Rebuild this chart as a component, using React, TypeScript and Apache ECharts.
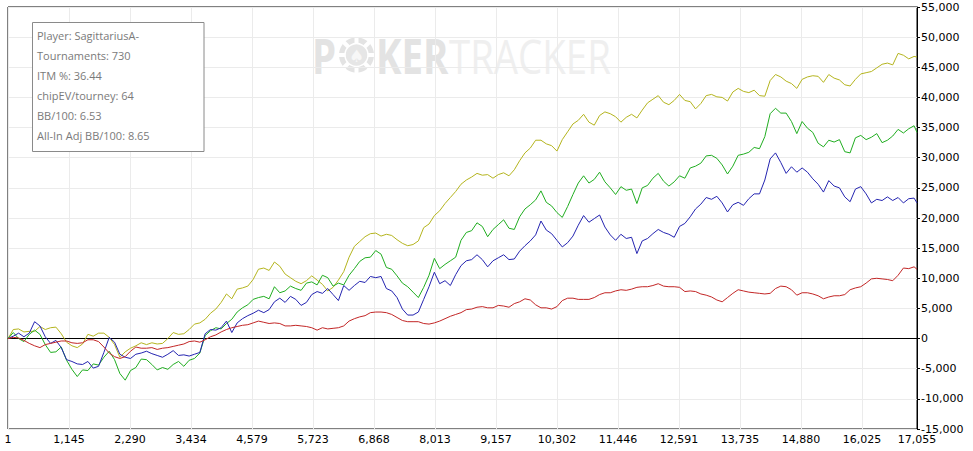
import React, { useEffect, useRef } from 'react';
import * as echarts from 'echarts';

// Hand numbers (x) at which the four cumulative lines are sampled
const hands = [
  1, 100, 200, 300, 400, 500, 600, 700, 800, 900,
  1000, 1100, 1200, 1300, 1400, 1500, 1600, 1700, 1800, 1900,
  2000, 2100, 2200, 2300, 2400, 2500, 2600, 2700, 2800, 2900,
  3000, 3100, 3200, 3300, 3400, 3500, 3600, 3700, 3800, 3900,
  4000, 4100, 4200, 4300, 4400, 4500, 4600, 4700, 4800, 4900,
  5000, 5100, 5200, 5300, 5400, 5500, 5600, 5700, 5800, 5900,
  6000, 6100, 6200, 6300, 6400, 6500, 6600, 6700, 6800, 6900,
  7000, 7100, 7200, 7300, 7400, 7500, 7600, 7700, 7800, 7900,
  8000, 8100, 8200, 8300, 8400, 8500, 8600, 8700, 8800, 8900,
  9000, 9100, 9200, 9300, 9400, 9500, 9600, 9700, 9800, 9900,
  10000, 10100, 10200, 10300, 10400, 10500, 10600, 10700, 10800, 10900,
  11000, 11100, 11200, 11300, 11400, 11500, 11600, 11700, 11800, 11900,
  12000, 12100, 12200, 12300, 12400, 12500, 12600, 12700, 12800, 12900,
  13000, 13100, 13200, 13300, 13400, 13500, 13600, 13700, 13800, 13900,
  14000, 14100, 14200, 14300, 14400, 14500, 14600, 14700, 14800, 14900,
  15000, 15100, 15200, 15300, 15400, 15500, 15600, 15700, 15800, 15900,
  16000, 16100, 16200, 16300, 16400, 16500, 16600, 16700, 16800, 16900,
  17000, 17055,
];

// Values in thousands
const oliveK = [
  0, 1.5, 1.6, 1.1, 1.2, 1.2, 2.0, 1.5, 1.8, 1.9,
  0.8, -0.6, -1.2, -1.5, -0.9, 0.7, 0.4, 0.9, 0.9, 0.2,
  -1.0, -3.1, -2.2, -1.6, -1.2, -0.7, -1.0, -0.7, -0.9, -0.8,
  0.0, 1.0, 0.7, 0.8, 1.5, 2.4, 2.6, 3.2, 4.2, 4.9,
  6.0, 7.4, 6.6, 8.2, 8.4, 8.7, 9.8, 11.5, 11.7, 11.3,
  12.7, 12.0, 10.7, 10.1, 9.5, 9.1, 9.6, 10.4, 9.7, 9.0,
  7.9, 8.5, 9.7, 11.1, 13.5, 15.3, 16.1, 16.9, 17.4, 17.5,
  17.0, 17.3, 17.1, 16.4, 15.8, 15.4, 15.6, 16.2, 18.4, 19.0,
  20.4, 21.2, 22.4, 23.4, 24.4, 25.6, 26.3, 26.8, 27.4, 27.1,
  27.2, 26.6, 27.2, 27.5, 27.0, 28.0, 29.5, 30.8, 31.6, 32.9,
  32.9, 32.3, 32.0, 31.1, 33.0, 34.3, 35.6, 36.2, 37.2, 35.9,
  35.4, 37.0, 37.6, 37.3, 36.8, 35.9, 36.7, 37.2, 36.6, 37.9,
  39.1, 39.7, 40.3, 39.2, 38.8, 39.5, 40.5, 39.5, 39.3, 38.1,
  39.0, 40.3, 40.5, 40.1, 40.0, 39.4, 40.9, 41.5, 41.0, 40.8,
  41.2, 40.3, 40.2, 42.8, 43.8, 43.4, 42.7, 42.3, 41.5, 43.0,
  43.4, 43.6, 43.5, 42.5, 43.8, 43.2, 42.9, 42.1, 41.9, 43.0,
  43.9, 44.1, 44.3, 44.9, 45.5, 45.7, 45.4, 47.3, 47.0, 46.4,
  46.8, 46.7,
];

const greenK = [
  0, 1.0, 0.0, -0.5, 0.7, 1.4, 0.7, -1.0, -2.3, -2.2,
  -1.4, -3.6, -5.1, -6.3, -5.2, -5.3, -4.2, -4.4, -3.1, -2.1,
  -3.5, -5.8, -6.9, -5.3, -4.8, -3.4, -3.5, -4.3, -5.2, -4.8,
  -5.1, -4.3, -3.8, -4.6, -3.6, -3.3, -2.4, 0.5, 1.3, 1.8,
  1.6, 2.5, 3.2, 4.4, 5.1, 5.6, 6.5, 6.8, 7.0, 6.6,
  8.6, 7.6, 7.9, 8.7, 8.3, 8.0, 9.2, 9.4, 8.9, 10.5,
  10.1, 8.7, 9.2, 8.9, 10.5, 11.6, 12.8, 13.4, 13.5, 14.6,
  14.0, 11.8, 11.5, 10.4, 9.2, 8.6, 7.7, 6.8, 8.5, 10.5,
  13.3, 11.6, 12.3, 12.9, 13.5, 16.3, 17.6, 17.9, 19.2, 18.6,
  16.9, 18.1, 18.9, 19.7, 18.3, 18.1, 20.2, 21.5, 22.2, 23.0,
  24.5, 22.6, 22.0, 20.9, 20.1, 21.9, 23.9, 25.8, 27.0, 25.8,
  26.4, 27.6, 26.0, 25.0, 23.9, 25.2, 24.6, 24.8, 22.4, 25.0,
  25.4, 26.6, 27.4, 26.1, 25.3, 26.0, 27.0, 26.6, 28.3, 28.6,
  29.1, 30.3, 30.4, 29.9, 28.8, 27.3, 28.6, 30.4, 30.6, 30.9,
  31.7, 31.5, 33.5, 37.3, 38.2, 37.4, 37.4, 36.0, 34.0, 36.0,
  34.9, 34.2, 32.4, 31.8, 32.9, 32.6, 33.0, 31.0, 30.8, 33.3,
  33.7, 33.0, 33.4, 34.0, 32.5, 32.9, 33.6, 34.7, 34.1, 34.8,
  35.3, 34.2,
];

const blueK = [
  0, 0.4, 0.9, 0.3, 0.9, 2.8, 2.1, 0.3, -0.8, -0.3,
  -1.5, -3.5, -3.8, -4.2, -4.3, -3.8, -4.9, -4.6, -2.3, 0.2,
  -0.6, -2.6, -3.1, -3.3, -2.6, -2.4, -2.1, -2.5, -2.8, -3.1,
  -2.6, -2.0, -2.8, -2.7, -2.9, -2.6, -2.3, 0.8, 1.5, 1.4,
  1.8, 2.9, 1.0, 2.6, 3.3, 3.8, 4.2, 4.7, 4.3, 4.8,
  6.1, 6.7, 6.0, 7.0, 6.5, 5.5, 6.0, 7.3, 7.8, 7.5,
  8.3, 7.3, 6.3, 8.8, 8.0, 8.8, 9.5, 9.3, 10.3, 10.1,
  10.3, 8.3, 7.9, 6.8, 4.9, 3.9, 3.9, 4.4, 6.5, 8.6,
  11.0, 9.1, 9.6, 8.8, 10.6, 12.1, 12.9, 13.1, 13.9, 13.1,
  11.9, 12.9, 13.4, 13.9, 13.1, 13.2, 14.5, 15.4, 16.2, 17.2,
  19.5, 18.0, 17.4, 16.3, 15.2, 15.9, 17.0, 18.8, 20.4, 19.3,
  19.9, 20.5, 18.5, 17.2, 16.3, 17.3, 16.6, 16.8, 14.1, 16.2,
  16.6, 17.4, 18.1, 17.6, 17.3, 16.8, 18.6, 19.1, 20.2, 21.5,
  22.3, 23.4, 23.1, 23.6, 22.5, 21.0, 22.2, 22.6, 22.1, 23.2,
  24.0, 24.0, 26.3, 29.8, 30.8, 29.2, 27.4, 28.5, 27.6, 28.3,
  27.6, 26.5, 25.6, 24.3, 26.2, 25.3, 25.0, 23.5, 22.7, 24.8,
  25.2, 24.0, 22.5, 23.1, 22.9, 23.5, 22.9, 23.4, 22.5, 23.2,
  23.3, 22.5,
];

const redK = [
  0, 0.2, 0.1, -0.3, -0.8, -1.2, -1.5, -1.0, -0.8, -0.6,
  -0.4, -0.4, -0.7, -0.8, -0.7, -0.2, -0.2, -0.5, -1.4, -2.4,
  -3.0, -3.3, -3.0, -2.1, -1.4, -1.6, -1.6, -1.5, -1.8, -1.6,
  -1.5, -1.3, -1.1, -0.9, -0.5, -0.4, -0.6, -0.2, 0.3, 0.6,
  1.1, 1.5, 1.8, 2.0, 2.2, 2.3, 2.6, 2.9, 2.7, 2.5,
  2.6, 2.5, 2.1, 2.1, 2.2, 2.1, 2.0, 1.8, 1.4, 1.8,
  1.6, 1.7, 1.8, 2.1, 2.9, 3.3, 3.6, 3.8, 4.3, 4.4,
  4.4, 4.3, 4.0, 3.5, 3.0, 2.8, 2.8, 2.8, 2.5, 2.4,
  2.6, 2.9, 3.3, 3.7, 4.0, 4.3, 4.8, 4.9, 5.2, 5.3,
  5.1, 5.1, 5.5, 5.4, 5.2, 5.8, 6.1, 6.6, 6.4, 5.6,
  5.1, 5.1, 4.9, 5.3, 6.3, 6.7, 6.7, 6.5, 6.5, 6.5,
  6.8, 7.3, 7.6, 7.6, 7.9, 8.1, 8.0, 8.2, 8.5, 8.6,
  8.6, 8.8, 9.1, 8.7, 8.6, 8.6, 8.5, 7.8, 7.9, 7.8,
  7.4, 7.2, 6.9, 6.4, 6.1, 6.8, 7.5, 8.1, 7.9, 7.7,
  7.6, 7.5, 7.4, 7.5, 8.3, 8.7, 8.6, 8.1, 7.2, 7.6,
  7.6, 7.4, 7.1, 6.6, 6.9, 7.1, 7.1, 7.3, 8.1, 8.4,
  8.6, 9.2, 9.9, 10.0, 9.9, 9.8, 9.6, 10.5, 11.7, 11.6,
  11.9, 11.5,
];

const xTickValues = [1, 1145, 2290, 3434, 4579, 5723, 6868, 8013, 9157, 10302, 11446, 12591, 13735, 14880, 16025, 17055];

const infoLines = [
  'Player: SagittariusA-',
  'Tournaments: 730',
  'ITM %: 36.44',
  'chipEV/tourney: 64',
  'BB/100: 6.53',
  'All-In Adj BB/100: 8.65',
];

const lineDefs = [
  { name: 'olive', values: oliveK, color: '#b4b41e' },
  { name: 'green', values: greenK, color: '#20ad20' },
  { name: 'blue', values: blueK, color: '#2424b0' },
  { name: 'red', values: redK, color: '#c22626' },
];

const fmt = (v: number) => Math.round(v).toLocaleString('en-US');

export default function App() {
  const ref = useRef<HTMLDivElement>(null);

  useEffect(() => {
    if (!ref.current) return;
    const chart = echarts.init(ref.current, undefined, { renderer: 'svg' });

    const series: any[] = lineDefs.map((d, i) => ({
      name: d.name,
      type: 'line',
      showSymbol: false,
      symbol: 'none',
      data: hands.map((h, j) => [h, d.values[j] * 1000]),
      lineStyle: { color: d.color, width: 1 },
      itemStyle: { color: d.color },
      z: 3 + i,
      markLine:
        i === 0
          ? {
              silent: true,
              symbol: ['none', 'none'],
              label: { show: false },
              lineStyle: { color: '#000', width: 1, type: 'solid' },
              data: [{ yAxis: 0 }],
              z: 2,
            }
          : undefined,
    }));

    const chipX = 356.5;
    const chipY = 55;
    const notches: any[] = [0, 45, 90, 135].map((deg) => {
      const r = (deg * Math.PI) / 180;
      return {
        type: 'line',
        z: -9,
        shape: {
          x1: chipX - 18 * Math.cos(r),
          y1: chipY - 18 * Math.sin(r),
          x2: chipX + 18 * Math.cos(r),
          y2: chipY + 18 * Math.sin(r),
        },
        style: { stroke: '#ffffff', lineWidth: 4 },
      };
    });

    const graphic: any[] = [
      {
        type: 'text',
        z: -10,
        x: 312,
        y: 55.5,
        scaleX: 0.8,
        style: {
          text: 'P',
          x: 0,
          y: 0,
          verticalAlign: 'middle',
          font: 'bold 48px "Open Sans", sans-serif',
          fill: '#e3e3e3',
        },
      },
      { type: 'circle', z: -10, shape: { cx: chipX, cy: chipY, r: 17.5 }, style: { fill: '#e3e3e3' } },
      ...notches,
      { type: 'circle', z: -8, shape: { cx: chipX, cy: chipY, r: 11.5 }, style: { fill: '#e6e6e6', stroke: '#ffffff', lineWidth: 1.5 } },
      {
        type: 'text',
        z: -7,
        x: chipX,
        y: chipY + 0.5,
        style: {
          text: '\u2660',
          x: 0,
          y: 0,
          align: 'center',
          verticalAlign: 'middle',
          font: '17px "DejaVu Sans", sans-serif',
          fill: '#f7f7f7',
        },
      },
      {
        type: 'text',
        z: -10,
        x: 376,
        y: 55.5,
        scaleX: 0.8,
        style: {
          text: 'KER',
          x: 0,
          y: 0,
          verticalAlign: 'middle',
          font: 'bold 48px "Open Sans", sans-serif',
          fill: '#e3e3e3',
        },
      },
      {
        type: 'text',
        z: -10,
        x: 449,
        y: 55.5,
        scaleX: 0.8,
        style: {
          text: 'TRACKER',
          x: 0,
          y: 0,
          verticalAlign: 'middle',
          font: '48px "Open Sans", sans-serif',
          fill: '#efefef',
        },
      },
      {
        type: 'rect',
        z: 100,
        shape: { x: 32.5, y: 22.5, width: 171.5, height: 129 },
        style: { fill: '#ffffff', stroke: '#8a8a8a', lineWidth: 1 },
      },
      ...infoLines.map((t, i) => ({
        type: 'text',
        z: 101,
        x: 37,
        y: 35 + i * 20,
        style: {
          text: t,
          x: 0,
          y: 0,
          verticalAlign: 'middle',
          font: '11px "Open Sans", sans-serif',
          fill: '#7a7a7a',
        },
      })),
    ];

    chart.setOption({
      animation: false,
      backgroundColor: '#ffffff',
      grid: {
        left: 8,
        right: 56,
        top: 7,
        bottom: 22,
        show: true,
        borderColor: '#000',
        borderWidth: 1,
        backgroundColor: 'transparent',
        containLabel: false,
      },
      xAxis: {
        type: 'value',
        min: 1,
        max: 17055,
        axisLine: { show: true, lineStyle: { color: '#000', width: 1 } },
        axisTick: { show: false, customValues: xTickValues },
        axisLabel: {
          customValues: xTickValues,
          formatter: (v: number) => fmt(v),
          color: '#000',
          fontSize: 11,
          fontFamily: '"DejaVu Sans", sans-serif',
          margin: 5,
        },
        splitLine: { show: true, lineStyle: { color: '#ebebeb', width: 1 } },
      },
      yAxis: {
        type: 'value',
        position: 'right',
        min: -15000,
        max: 55000,
        interval: 5000,
        axisLine: { show: true, lineStyle: { color: '#000', width: 1 } },
        axisTick: { show: true, length: 3, lineStyle: { color: '#000' } },
        axisLabel: {
          formatter: (v: number) => fmt(v),
          color: '#000',
          fontSize: 11,
          fontFamily: '"DejaVu Sans", sans-serif',
          margin: 4,
        },
        splitLine: { show: true, lineStyle: { color: '#ebebeb', width: 1 } },
      },
      series,
      graphic,
    });

    return () => {
      chart.dispose();
    };
  }, []);

  return (
    <div
      ref={ref}
      style={{ position: 'fixed', left: 0, top: 0, width: 973, height: 451, background: '#fff' }}
    />
  );
}
